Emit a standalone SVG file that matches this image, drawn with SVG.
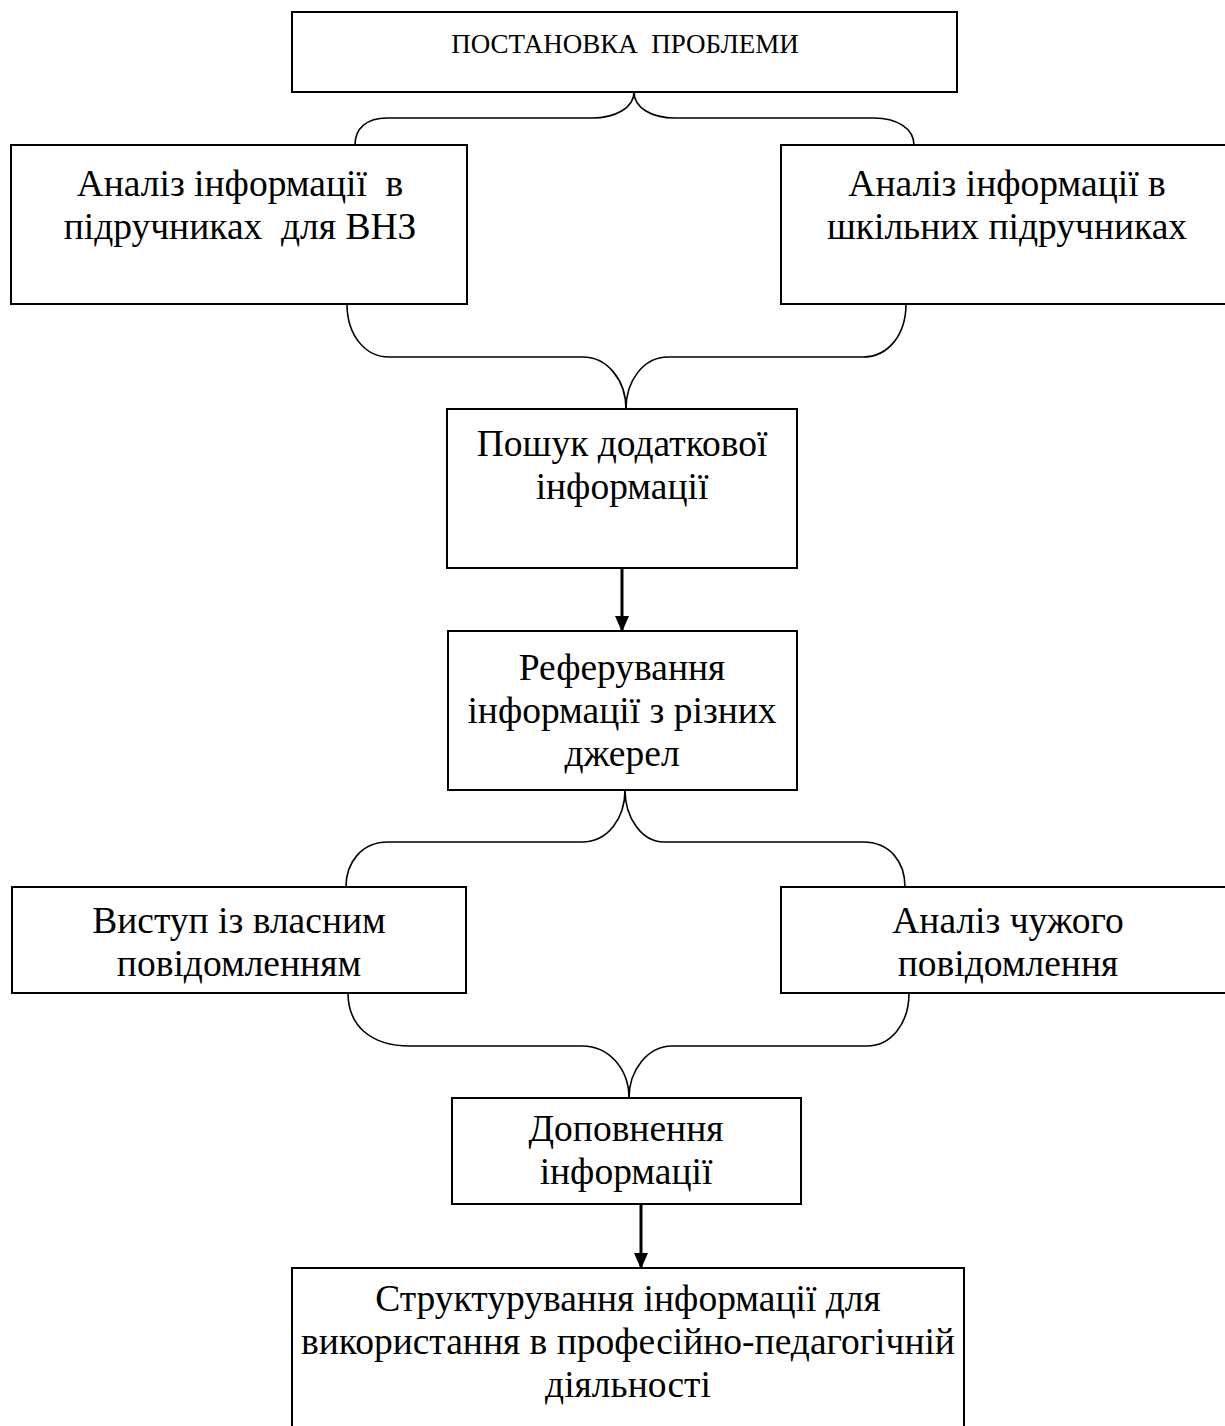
<svg xmlns="http://www.w3.org/2000/svg" width="1225" height="1426" viewBox="0 0 1225 1426">
<defs>
<style>
.box{fill:#fff;stroke:#000;stroke-width:2}
.t{font-family:"Liberation Serif","Times New Roman",serif;font-size:37.5px;fill:#000;text-anchor:middle}
.ts{font-family:"Liberation Serif","Times New Roman",serif;font-size:27px;fill:#000;text-anchor:middle}
.brace{fill:none;stroke:#000;stroke-width:1.6}
.arrow{fill:none;stroke:#000;stroke-width:3}
</style>
<marker id="ah" viewBox="0 0 16 14" refX="15" refY="7" markerWidth="16" markerHeight="14" markerUnits="userSpaceOnUse" orient="auto">
<path d="M0,0 L16,7 L0,14 Z" fill="#000"/>
</marker>
</defs>
<rect width="1225" height="1426" fill="#fff"/>
<g id="connectors">
<path class="brace" d="M355,145 C355,128 367,118 387,118 L592,118 C615,118 634,108 634,92 C634,108 652,118 675,118 L874,118 C896,118 914,128 914,145"/>
<path class="brace" d="M347,304 C347,335 365,357 389,357 L583,357 C607,357 626,380 626,409"/>
<path class="brace" d="M906,304 C906,335 888,357 863,357 L668,357 C644,357 626,380 626,409"/>
<line class="arrow" x1="622" y1="568" x2="622" y2="631" marker-end="url(#ah)"/>
<path class="brace" d="M625,790 C625,818 608,842 582,842 L388,842 C362,842 346,862 346,887"/>
<path class="brace" d="M625,790 C625,818 642,842 664,842 L863,842 C890,842 905,862 905,887"/>
<path class="brace" d="M348,993 C348,1025 370,1046 410,1046 L582,1046 C610,1046 629,1070 629,1098"/>
<path class="brace" d="M909,993 C909,1025 890,1046 867,1046 L672,1046 C648,1046 629,1070 629,1098"/>
<line class="arrow" x1="641" y1="1204" x2="641" y2="1268" marker-end="url(#ah)"/>
</g>
<g id="n1">
<rect class="box" x="292" y="12" width="665" height="80"/>
<text class="ts" x="625" y="53" xml:space="preserve">ПОСТАНОВКА  ПРОБЛЕМИ</text>
</g>
<g id="n2">
<rect class="box" x="11" y="145" width="456" height="159"/>
<text class="t" x="240" y="196" xml:space="preserve">Аналіз інформації  в</text>
<text class="t" x="240" y="239" xml:space="preserve">підручниках  для ВНЗ</text>
</g>
<g id="n3">
<rect class="box" x="781" y="145" width="460" height="159"/>
<text class="t" x="1007" y="196">Аналіз інформації в</text>
<text class="t" x="1007" y="239">шкільних підручниках</text>
</g>
<g id="n4">
<rect class="box" x="447" y="409" width="350" height="159"/>
<text class="t" x="622" y="456">Пошук додаткової</text>
<text class="t" x="622" y="499">інформації</text>
</g>
<g id="n5">
<rect class="box" x="448" y="631" width="349" height="159"/>
<text class="t" x="622" y="680">Реферування</text>
<text class="t" x="622" y="723">інформації з різних</text>
<text class="t" x="622" y="766">джерел</text>
</g>
<g id="n6">
<rect class="box" x="12" y="887" width="454" height="106"/>
<text class="t" x="239" y="933">Виступ із власним</text>
<text class="t" x="239" y="976">повідомленням</text>
</g>
<g id="n7">
<rect class="box" x="781" y="887" width="460" height="106"/>
<text class="t" x="1008" y="933">Аналіз чужого</text>
<text class="t" x="1008" y="976">повідомлення</text>
</g>
<g id="n8">
<rect class="box" x="452" y="1098" width="349" height="106"/>
<text class="t" x="626" y="1141">Доповнення</text>
<text class="t" x="626" y="1184">інформації</text>
</g>
<g id="n9">
<rect class="box" x="292" y="1268" width="672" height="170"/>
<text class="t" x="628" y="1311">Структурування інформації для</text>
<text class="t" x="628" y="1354">використання в професійно-педагогічній</text>
<text class="t" x="628" y="1397">діяльності</text>
</g>
</svg>
